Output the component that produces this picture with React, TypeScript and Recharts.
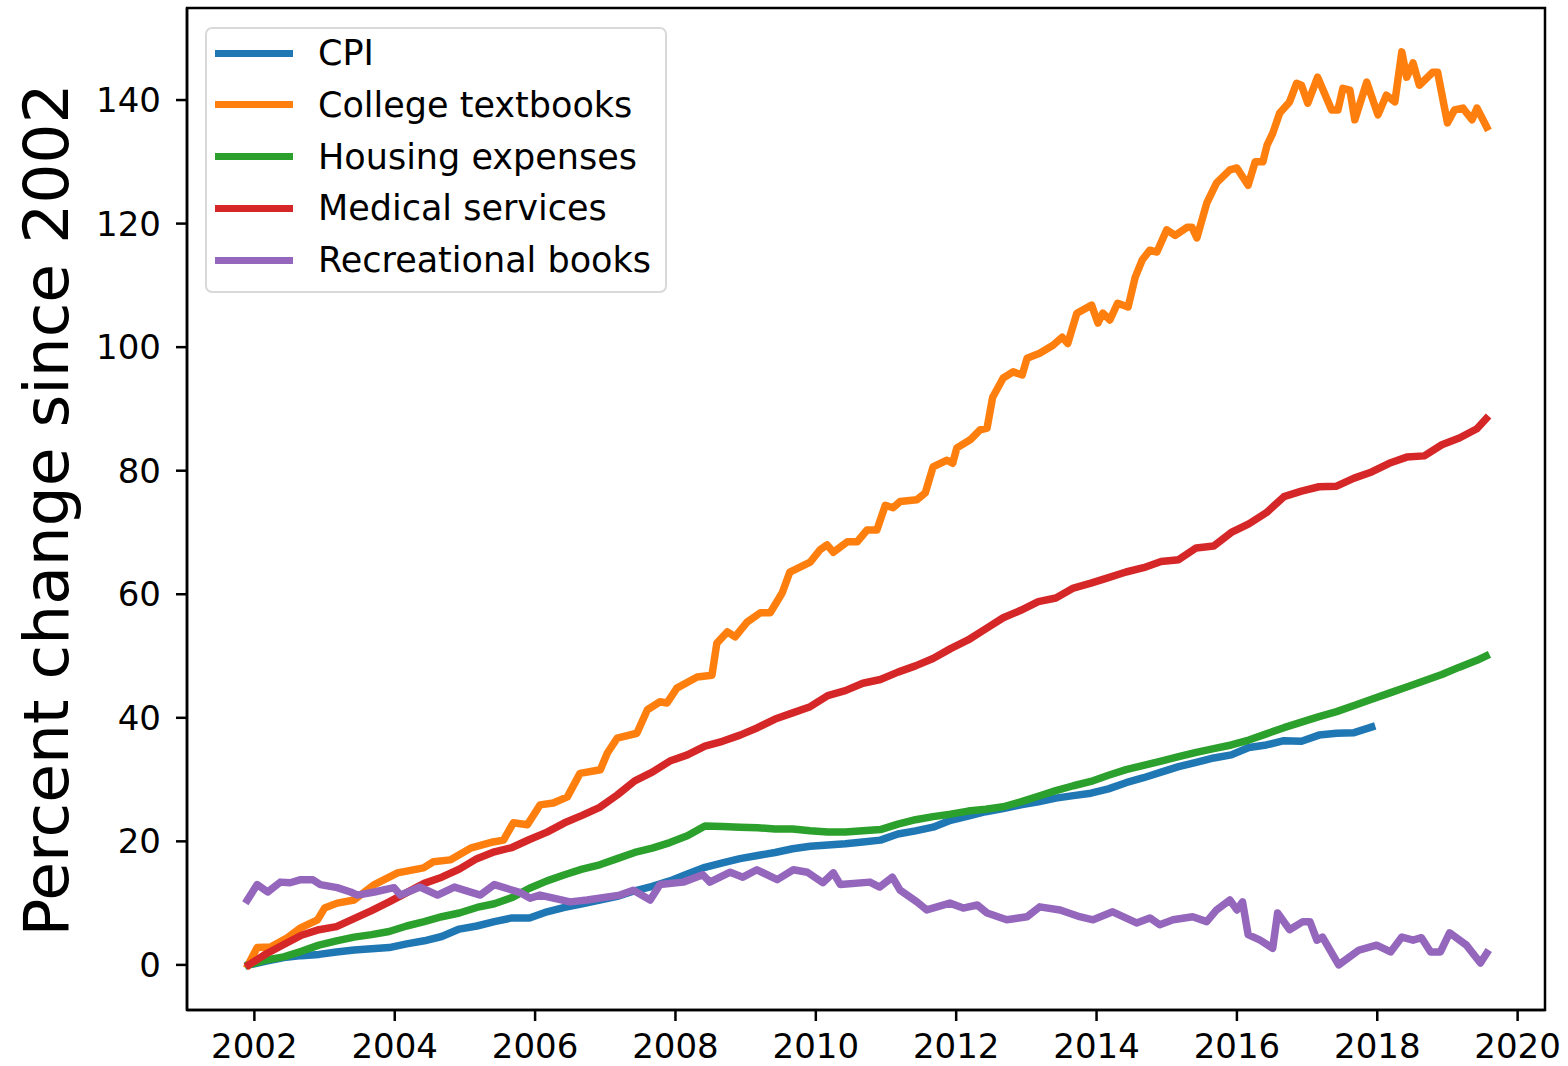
import { LineChart, Line, XAxis, YAxis, Legend, ReferenceArea } from 'recharts'

const FONT = '"DejaVu Sans", sans-serif'

// quarterly samples from late 2001, last one mid 2019
const years = Array.from({ length: 71 }, (_, i) => +(2001.92 + i * 0.25).toFixed(2)).concat(2019.55)

const cpi = [
  0, 0.6, 1.2, 1.5, 1.7, 2.1, 2.4, 2.6, 2.8, 3.4,
  3.9, 4.6, 5.8, 6.3, 7, 7.6, 7.6, 8.6, 9.3, 9.9,
  10.5, 11.1, 12, 12.7, 13.6, 14.7, 15.8, 16.5, 17.2, 17.7,
  18.2, 18.8, 19.2, 19.4, 19.6, 19.9, 20.2, 21.2, 21.7, 22.3,
  23.4, 24.1, 24.8, 25.3, 25.9, 26.4, 27, 27.4, 27.8, 28.5,
  29.5, 30.3, 31.2, 32.1, 32.8, 33.5, 34, 35.2, 35.6, 36.3,
  36.2, 37.2, 37.5, 37.6, 38.5, null, null, null, null, null,
  null, null,
]

const housing = [
  0, 0.8, 1.3, 2.2, 3.2, 3.9, 4.5, 4.9, 5.4, 6.3,
  7, 7.8, 8.4, 9.3, 9.9, 10.9, 12.4, 13.6, 14.6, 15.5,
  16.2, 17.2, 18.2, 18.9, 19.8, 20.9, 22.5, 22.4, 22.3, 22.2,
  22, 22, 21.7, 21.5, 21.5, 21.7, 21.9, 22.8, 23.5, 24,
  24.4, 24.9, 25.2, 25.6, 26.4, 27.3, 28.2, 29, 29.7, 30.7,
  31.6, 32.3, 33, 33.7, 34.4, 35, 35.6, 36.4, 37.4, 38.4,
  39.3, 40.2, 41, 42, 43, 44, 45, 46, 47, 48.2,
  49.3, 50,
]

const medical = [
  0, 1.8, 3.3, 4.8, 5.7, 6.2, 7.5, 8.8, 10.2, 11.7,
  13.2, 14.2, 15.5, 17.2, 18.3, 19, 20.3, 21.5, 23, 24.2,
  25.5, 27.5, 29.8, 31.2, 33, 34, 35.4, 36.2, 37.2, 38.4,
  39.8, 40.8, 41.8, 43.6, 44.4, 45.6, 46.2, 47.4, 48.4, 49.6,
  51.2, 52.6, 54.4, 56.2, 57.4, 58.8, 59.4, 61, 61.8, 62.7,
  63.6, 64.3, 65.3, 65.6, 67.5, 67.8, 70, 71.4, 73.2, 75.8,
  76.7, 77.4, 77.5, 78.8, 79.8, 81.2, 82.2, 82.4, 84.2, 85.3,
  86.8, 88.4,
]

// the jagged series are read at their own turning points
const textbookYears = [
  2001.91, 2002.04, 2002.23, 2002.47, 2002.66, 2002.9, 2003.0, 2003.18, 2003.42, 2003.71,
  2004.04, 2004.41, 2004.55, 2004.79, 2005.08, 2005.4, 2005.55, 2005.69, 2005.89, 2006.07,
  2006.26, 2006.46, 2006.64, 2006.93, 2007.03, 2007.17, 2007.45, 2007.6, 2007.78, 2007.88,
  2008.02, 2008.31, 2008.52, 2008.59, 2008.74, 2008.85, 2009.02, 2009.21, 2009.35, 2009.52,
  2009.63, 2009.92, 2010.06, 2010.16, 2010.25, 2010.45, 2010.59, 2010.73, 2010.87, 2010.99,
  2011.1, 2011.2, 2011.44, 2011.56, 2011.67, 2011.87, 2011.95, 2012.01, 2012.2, 2012.34,
  2012.44, 2012.52, 2012.67, 2012.81, 2012.94, 2013.01, 2013.19, 2013.38, 2013.51, 2013.59,
  2013.72, 2013.93, 2014.02, 2014.09, 2014.19, 2014.3, 2014.45, 2014.55, 2014.65, 2014.76,
  2014.86, 2015.0, 2015.12, 2015.29, 2015.36, 2015.43, 2015.57, 2015.71, 2015.9, 2016.0,
  2016.16, 2016.26, 2016.37, 2016.43, 2016.51, 2016.61, 2016.75, 2016.85, 2016.92, 2017.01,
  2017.15, 2017.35, 2017.44, 2017.51, 2017.61, 2017.68, 2017.85, 2018.01, 2018.13, 2018.25,
  2018.35, 2018.42, 2018.51, 2018.6, 2018.79, 2018.86, 2019.0, 2019.1, 2019.22, 2019.35,
  2019.42, 2019.56,
]
const textbookValues = [
  0, 2.8, 2.9, 4.4, 6, 7.3, 9.2, 10, 10.5, 13,
  14.9, 15.7, 16.7, 17, 18.9, 19.9, 20.2, 23, 22.7, 25.9,
  26.2, 27.2, 31, 31.6, 34.3, 36.7, 37.5, 41.3, 42.6, 42.4,
  44.8, 46.6, 46.9, 52.1, 53.9, 53.1, 55.5, 57, 57, 60.2,
  63.6, 65.2, 67.2, 68, 66.8, 68.5, 68.5, 70.4, 70.4, 74.4,
  74, 75, 75.3, 76.4, 80.6, 81.7, 81.2, 83.7, 85, 86.6,
  86.9, 91.9, 95, 96, 95.5, 98.2, 99, 100.3, 101.6, 100.6,
  105.5, 106.8, 103.9, 105.5, 104.4, 107.1, 106.5, 111.3, 114.1, 115.7,
  115.4, 119, 118.1, 119.4, 119.4, 117.7, 123.3, 126.6, 128.7, 129,
  126.2, 130, 130, 132.7, 134.6, 137.9, 139.7, 142.7, 142.4, 139.5,
  143.7, 138.4, 138.4, 141.9, 141.6, 136.8, 142.9, 137.6, 140.8, 139.7,
  147.8, 143.7, 146, 142.4, 144.5, 144.5, 136.3, 138.4, 138.7, 136.8,
  138.7, 135.6,
]

const recreationalYears = [
  2001.9, 2002.04, 2002.19, 2002.37, 2002.51, 2002.66, 2002.83, 2002.94, 2003.18, 2003.37,
  2003.47, 2003.71, 2003.99, 2004.08, 2004.36, 2004.61, 2004.85, 2005.22, 2005.42, 2005.79,
  2005.93, 2006.07, 2006.5, 2006.74, 2007.21, 2007.4, 2007.64, 2007.78, 2008.11, 2008.39,
  2008.49, 2008.78, 2008.96, 2009.16, 2009.45, 2009.68, 2009.88, 2010.1, 2010.25, 2010.35,
  2010.77, 2010.91, 2011.09, 2011.2, 2011.44, 2011.58, 2011.91, 2012.1, 2012.3, 2012.44,
  2012.72, 2013.01, 2013.19, 2013.48, 2013.76, 2013.95, 2014.23, 2014.57, 2014.76, 2014.9,
  2015.09, 2015.37, 2015.57, 2015.71, 2015.9, 2016.0, 2016.08, 2016.16, 2016.33, 2016.51,
  2016.58, 2016.75, 2016.94, 2017.04, 2017.14, 2017.22, 2017.45, 2017.74, 2017.99, 2018.19,
  2018.35, 2018.51, 2018.63, 2018.76, 2018.9, 2019.03, 2019.27, 2019.47, 2019.56,
]
const recreationalValues = [
  10.5, 13, 11.8, 13.4, 13.3, 13.8, 13.8, 13, 12.5, 11.8,
  11.3, 11.8, 12.5, 11.3, 12.6, 11.3, 12.6, 11.3, 13, 11.7,
  10.8, 11.3, 10.2, 10.5, 11.3, 12.1, 10.5, 13, 13.4, 14.6,
  13.4, 15, 14.2, 15.4, 13.8, 15.4, 15, 13.3, 14.9, 13,
  13.4, 12.6, 14.2, 12.1, 10.2, 8.9, 10, 9.2, 9.7, 8.4,
  7.3, 7.8, 9.4, 8.9, 7.8, 7.3, 8.6, 6.8, 7.6, 6.5,
  7.3, 7.8, 7, 8.9, 10.5, 8.9, 10.2, 4.9, 4, 2.7,
  8.4, 5.7, 7, 7, 4, 4.5, 0, 2.4, 3.2, 2.1,
  4.5, 4, 4.4, 2.1, 2.1, 5.2, 3.2, 0.3, 1.9,
]

const xTicks = [2002, 2004, 2006, 2008, 2010, 2012, 2014, 2016, 2018, 2020]
const yTicks = [0, 20, 40, 60, 80, 100, 120, 140]
const xDomain = [2001.04, 2020.39]
const yDomain = [-7.3, 154.9]

const series = [
  { key: 'cpi', label: 'CPI', color: '#1f77b4' },
  { key: 'textbooks', label: 'College textbooks', color: '#ff7f0e' },
  { key: 'housing', label: 'Housing expenses', color: '#2ca02c' },
  { key: 'medical', label: 'Medical services', color: '#d62728' },
  { key: 'recreational', label: 'Recreational books', color: '#9467bd' },
]

const data = years.map((year, i) => ({ year, cpi: cpi[i], housing: housing[i], medical: medical[i] }))
const textbookData = textbookYears.map((year, i) => ({ year, textbooks: textbookValues[i] }))
const recreationalData = recreationalYears.map((year, i) => ({ year, recreational: recreationalValues[i] }))

const seriesData: Record<string, any[] | undefined> = {
  textbooks: textbookData,
  recreational: recreationalData,
}

function LegendBox() {
  return (
    <div
      style={{
        boxSizing: 'border-box',
        width: 462,
        height: 266,
        border: '2px solid #d9d9d9',
        borderRadius: 7,
        background: 'rgba(255,255,255,0.8)',
        position: 'relative',
        fontFamily: FONT,
      }}
    >
      {series.map((s, i) => (
        <div
          key={s.key}
          style={{ position: 'absolute', left: 0, top: 4 + i * 51.75, height: 40, display: 'flex', alignItems: 'center' }}
        >
          <div style={{ marginLeft: 8, width: 78, height: 7, background: s.color }} />
          <span style={{ marginLeft: 25, fontSize: 35, lineHeight: '40px', color: '#000', whiteSpace: 'nowrap' }}>
            {s.label}
          </span>
        </div>
      ))}
    </div>
  )
}

function YLabel() {
  return (
    <text x={68} y={510} transform="rotate(-90 68 510)" textAnchor="middle" fontSize={63} fontFamily={FONT} fill="#000">
      Percent change since 2002
    </text>
  )
}

const axisLine = { stroke: '#000', strokeWidth: 2.5 }
const tickStyle = { fontSize: 34, fill: '#000', fontFamily: FONT }

export default function App() {
  return (
    <div style={{ position: 'absolute', left: 0, top: 0, width: 1568, height: 1066, background: '#fff' }}>
      <LineChart
        width={1568}
        height={1066}
        data={data}
        margin={{ top: 8, right: 23, bottom: 0, left: 0 }}
        style={{ fontFamily: FONT }}
      >
        <XAxis
          dataKey="year"
          type="number"
          domain={xDomain}
          ticks={xTicks}
          allowDataOverflow
          height={56}
          tickSize={11}
          tickMargin={13}
          tick={tickStyle}
          tickLine={axisLine}
          axisLine={axisLine}
        />
        <YAxis
          type="number"
          domain={yDomain}
          ticks={yTicks}
          allowDataOverflow
          width={187}
          tickSize={11}
          tickMargin={15}
          tick={tickStyle}
          tickLine={axisLine}
          axisLine={axisLine}
          label={<YLabel />}
        />
        <ReferenceArea
          x1={xDomain[0]}
          x2={xDomain[1]}
          y1={yDomain[0]}
          y2={yDomain[1]}
          stroke="#000"
          strokeWidth={2.5}
          fill="none"
          fillOpacity={0}
          ifOverflow="visible"
        />
        {series.map((s) => (
          <Line
            key={s.key}
            data={seriesData[s.key]}
            type="linear"
            dataKey={s.key}
            stroke={s.color}
            strokeWidth={7.5}
            strokeLinejoin="round"
            strokeLinecap="square"
            dot={false}
            activeDot={false}
            isAnimationActive={false}
          />
        ))}
        <Legend
          layout="vertical"
          align="center"
          verticalAlign="middle"
          content={() => <LegendBox />}
          wrapperStyle={{ left: 205, top: 27, width: 462, height: 266 }}
        />
      </LineChart>
    </div>
  )
}
